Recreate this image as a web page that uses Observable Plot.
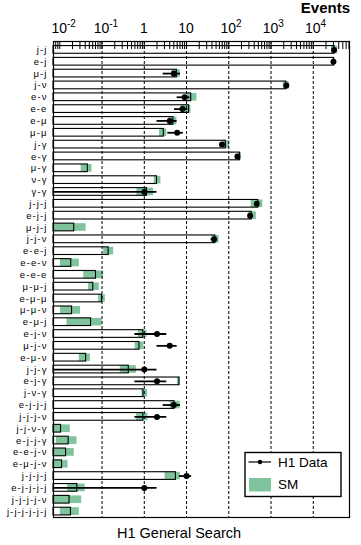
<!DOCTYPE html>
<html><head><meta charset="utf-8">
<script src="https://cdn.jsdelivr.net/npm/d3@7"></script>
<script src="https://cdn.jsdelivr.net/npm/@observablehq/plot@0.6"></script>
<style>html,body{margin:0;padding:0;background:#fff;} svg{display:block;}</style>
</head><body><div id="chart"></div>
<script>
// Event classes (top to bottom)
const categories = ["j-j","e-j","μ-j","j-ν","e-ν","e-e","e-μ","μ-μ","j-γ","e-γ","μ-γ","ν-γ","γ-γ",
  "j-j-j","e-j-j","μ-j-j","j-j-ν","e-e-j","e-e-ν","e-e-e","μ-μ-j","e-μ-μ","μ-μ-ν","e-μ-j",
  "e-j-ν","μ-j-ν","e-μ-ν","j-j-γ","e-j-γ","j-ν-γ","e-j-j-j","j-j-j-ν","j-j-ν-γ","e-j-j-γ",
  "e-e-j-ν","e-μ-j-ν","j-j-j-j","e-j-j-j-j","j-j-j-j-ν","j-j-j-j-j-j"];
// SM expectation (open box) and its uncertainty band (green)
const smValue = [32000,31000,5.9,2300,12.9,11.5,4.9,2.9,85,185,0.046,2.0,1.16,
  500,350,0.022,48,0.143,0.0187,0.072,0.062,0.1,0.0195,0.055,
  0.95,0.77,0.042,0.43,6.8,0.96,5.2,0.95,0.0107,0.0162,
  0.0141,0.0113,5.6,0.026,0.017,0.0184];
const smLow = [27000,29000,4.5,1950,10.3,7.5,3.8,2.3,75,170,0.032,1.72,0.67,
  340,290,0.005,40,0.109,0.0104,0.037,0.048,0.083,0.0104,0.0148,
  0.72,0.61,0.029,0.27,6.1,0.88,4.1,0.66,0.005,0.0083,
  0.005,0.005,3.1,0.0153,0.005,0.0103];
const smHigh = [38000,33000,7.1,2700,17.6,12.7,5.9,3.4,104,197,0.058,2.48,1.66,
  640,450,0.042,59,0.188,0.029,0.109,0.086,0.12,0.031,0.1,
  1.16,0.98,0.053,0.65,7.1,1.2,7.1,1.22,0.0177,0.0255,
  0.022,0.0157,7.1,0.04,0.033,0.029];
// H1 data: observed events and error bar ends (null = none / down to axis edge)
const dataCount = [31000,30000,5,2300,9,8,4,6,69,160,null,null,1,
  460,320,null,45,null,null,null,null,null,null,null,
  2,4,null,1,2,null,5,2,null,null,
  null,null,10,1,null,null];
const dataLow = [30800,29800,2.8,2250,6,5.2,2,3.6,61,147,null,null,null,
  440,302,null,38,null,null,null,null,null,null,null,
  0.6,2,null,null,0.6,null,2.8,0.6,null,null,
  null,null,6.8,null,null,null];
const dataHigh = [31200,30200,7.2,2350,12,10.8,6,8.4,77,173,null,null,2,
  480,338,null,52,null,null,null,null,null,null,null,
  3.4,6,null,2,3.4,null,7.2,3.4,null,null,
  null,null,13.2,2,null,null];
// Axis tick labels
const tickValues = [0.01,0.1,1,10,100,1000,10000];
const tickBase = ["10","10","1","10","10","10","10"];
const tickExp = ["-2","-1","","","2","3","4"];
const gridValues = [0.1,1,10,100,1000,10000];

const X_MIN = 0.0071, X_MAX = 72000;
const GREEN = "#80c49e";
const FONT = "'Liberation Sans', Arial, Helvetica, sans-serif";

const rows = categories.map((c, i) => ({
  cat: c, sm: smValue[i], lo: Math.max(smLow[i], X_MIN), hi: smHigh[i],
  n: dataCount[i], dlo: dataLow[i] == null ? X_MIN : dataLow[i], dhi: dataHigh[i]
}));
const dataRows = rows.filter(d => d.n != null);

const minor = [];
for (let e = -3; e <= 4; e++) for (let m = 1; m <= 9; m++) {
  const v = +(m * Math.pow(10, e)).toPrecision(3);
  if (v >= X_MIN && v <= X_MAX) minor.push(v);
}

const W = 361, H = 545, mT = 41, mB = 28, mL = 53, mR = 12;
const chart = Plot.plot({
  width: W, height: H, marginTop: mT, marginBottom: mB, marginLeft: mL, marginRight: mR,
  style: {fontFamily: FONT, background: "#fff", color: "#000", overflow: "visible"},
  x: {type: "log", domain: [X_MIN, X_MAX], axis: null},
  y: {type: "band", domain: categories, paddingInner: 0.35, paddingOuter: 0.175, insetTop: 2.5},
  marks: [
    Plot.barX(rows, {y: "cat", x1: "lo", x2: "hi", fill: GREEN}),
    Plot.barX(rows, {y: "cat", x1: () => X_MIN, x2: "sm", fill: "none", stroke: "#000", strokeWidth: 1.1}),
    Plot.ruleX(gridValues, {stroke: "#000", strokeDasharray: "3,2", strokeWidth: 1}),
    Plot.ruleX(minor, {stroke: "#000", strokeWidth: 1, insetBottom: H - mT - mB - 8}),
    Plot.ruleY(dataRows, {y: "cat", x1: "dlo", x2: "dhi", stroke: "#000", strokeWidth: 1.8}),
    Plot.dot(dataRows, {y: "cat", x: "n", r: 3, fill: "#000", stroke: "none"}),
    Plot.axisY({tickSize: 0, tickPadding: 6, fontSize: 9.5, label: null}),
    Plot.frame({stroke: "#000", strokeWidth: 1.2})
  ]
});
document.getElementById("chart").appendChild(chart);

const svg = d3.select(chart);
svg.selectAll('g[aria-label="y-axis tick label"] text').attr("letter-spacing", "1.1");
const xs = chart.scale("x");
const g = svg.append("g").attr("font-family", FONT).attr("fill", "#000").attr("text-anchor", "start");
tickValues.forEach((v, i) => {
  const x = xs.apply(v);
  g.append("text").attr("x", x).attr("y", 32.5).attr("text-anchor", "middle")
    .attr("font-size", 14).text(tickBase[i]);
  if (tickExp[i]) g.append("text").attr("x", x + 7.6).attr("y", 26.5).attr("text-anchor", "start")
    .attr("font-size", 10).text(tickExp[i]);
});
g.append("text").attr("x", 350).attr("y", 12.5).attr("text-anchor", "end")
  .attr("font-size", 15).attr("font-weight", "bold").text("Events");
g.append("text").attr("x", 117).attr("y", 537.5).attr("text-anchor", "start")
  .attr("font-size", 14.5).text("H1 General Search");
// legend
const lg = g.append("g").attr("text-anchor", "start");
lg.append("rect").attr("x", 245).attr("y", 452.5).attr("width", 96).attr("height", 44)
  .attr("fill", "#fff").attr("stroke", "#000").attr("stroke-width", 1.4);
lg.append("line").attr("x1", 248.5).attr("x2", 271).attr("y1", 462).attr("y2", 462)
  .attr("stroke", "#000").attr("stroke-width", 1.2);
lg.append("circle").attr("cx", 260).attr("cy", 462).attr("r", 2.2).attr("fill", "#000");
lg.append("text").attr("x", 278).attr("y", 467).attr("font-size", 13.5).text("H1 Data");
lg.append("rect").attr("x", 249).attr("y", 478).attr("width", 22).attr("height", 13.5).attr("fill", GREEN);
lg.append("text").attr("x", 278).attr("y", 488.5).attr("font-size", 13.5).text("SM");
</script>
</body></html>
